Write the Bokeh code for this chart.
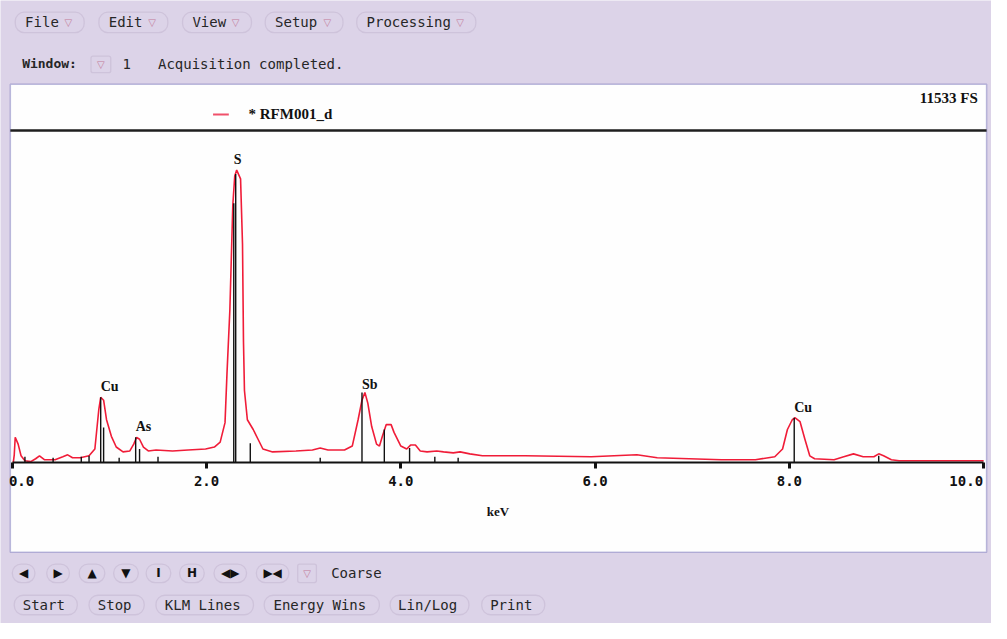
from bokeh.plotting import figure
from bokeh.models import (Range1d, FixedTicker, PrintfTickFormatter, BoxAnnotation,
                          Label, LabelSet, ColumnDataSource)
from bokeh.core.properties import value
from bokeh.embed import file_html
from bokeh.resources import INLINE

# ---------------- data ----------------
energy_kev = [0.01, 0.02, 0.03, 0.06, 0.09, 0.13, 0.19, 0.24, 0.28, 0.33, 0.44, 0.52, 0.57,
              0.62, 0.70, 0.79, 0.85, 0.89, 0.91, 0.94, 0.97, 1.02, 1.07, 1.14, 1.21, 1.25,
              1.28, 1.31, 1.35, 1.40, 1.48, 1.65, 1.81, 1.99, 2.08, 2.14, 2.19, 2.21, 2.24,
              2.27, 2.29, 2.31, 2.35, 2.37, 2.38, 2.39, 2.42, 2.48, 2.53, 2.58, 2.68, 2.92,
              3.09, 3.17, 3.25, 3.42, 3.50, 3.56, 3.60, 3.63, 3.66, 3.70, 3.75, 3.78, 3.81,
              3.85, 3.90, 3.93, 4.00, 4.06, 4.10, 4.15, 4.20, 4.27, 4.37, 4.44, 4.54, 4.61,
              4.71, 4.84, 5.28, 5.96, 6.43, 6.64, 6.97, 7.30, 7.65, 7.85, 7.93, 7.98, 8.03,
              8.06, 8.11, 8.16, 8.21, 8.26, 8.46, 8.56, 8.66, 8.76, 8.87, 8.92, 8.97, 9.05,
              9.13, 9.47, 9.81, 10.0]
counts = [0, 285, 925, 676, 249, 71, 36, 142, 249, 107, 107, 214, 285,
          178, 178, 249, 498, 1922, 2385, 2278, 1566, 961, 570, 392, 427, 676,
          925, 854, 570, 427, 463, 427, 463, 498, 570, 748, 1460, 3240, 5589,
          9398, 10466, 10680, 10360, 7974, 4414, 2634, 1566, 1210, 854, 498, 392, 427,
          463, 534, 463, 463, 605, 1566, 2278, 2563, 2172, 1317, 676, 605, 961,
          1388, 1388, 1104, 605, 498, 641, 641, 427, 392, 427, 392, 356, 392,
          320, 249, 249, 214, 285, 178, 142, 107, 107, 214, 498, 1210, 1566,
          1638, 1495, 854, 249, 142, 107, 214, 320, 214, 214, 320, 249, 107,
          71, 71, 71, 71]

klm_kev = [0.13, 0.42, 0.71, 0.79, 0.91, 0.94, 1.10, 1.27, 1.31, 1.50, 2.28, 2.30, 2.45,
           3.17, 3.60, 3.83, 4.09, 4.35, 4.59, 8.05, 8.92]
klm_counts = [214, 178, 214, 249, 2385, 1282, 178, 925, 498, 214, 9470, 10538, 712,
              178, 2563, 1210, 534, 214, 178, 1638, 249]

peak_names = ["Cu", "As", "S", "Sb", "Cu"]
peak_kev = [0.91, 1.27, 2.28, 3.60, 8.05]
peak_counts = [2385, 925, 10680, 2480, 1638]

x_ticks = [0, 2, 4, 6, 8, 10]
full_scale = 11533
series_name = "* RFM001_d"
fs_text = "11533 FS"
axis_name = "keV"

menu_labels = ["File", "Edit", "View", "Setup", "Processing"]
action_labels = ["Start", "Stop", "KLM Lines", "Energy Wins", "Lin/Log", "Print"]
nav_symbols = ["\u25C0", "\u25B6", "\u25B2", "\u25BC", "I", "H", "\u25C0\u25B6", "\u25B6\u25C0"]
window_label = "Window:"
window_no = "1"
status_text = "Acquisition completed."
mode_text = "Coarse"

# ---------------- layout (positions in screenshot pixels) ----------------
LAV = "#dcd3e8"
BTN_LINE = "#b09fbd"
TXT = "#262626"
TRI = "#c27b98"
SHOT_W, SHOT_H = 1007, 639
FX0, FX1, FY0, FY1 = 12, 999, 150, 474   # 0..10 keV, 0..full scale


def X(px):
    return (px - FX0) / (FX1 - FX0) * 10.0


def Y(py):
    return (FY1 - py) / (FY1 - FY0) * full_scale


p = figure(width=991, height=623, x_range=Range1d(X(0), X(SHOT_W)),
           y_range=Range1d(Y(SHOT_H), Y(0)),
           output_backend="svg", toolbar_location=None, y_axis_location=None,
           min_border_left=0, min_border_right=0, min_border_top=0, min_border_bottom=0)
p.border_fill_color = LAV
p.background_fill_color = LAV
p.outline_line_color = None
p.xgrid.visible = False
p.ygrid.visible = False

ax = p.xaxis[0]
ax.fixed_location = 0
ax.bounds = (0, 10)
ax.ticker = FixedTicker(ticks=x_ticks)
ax.formatter = PrintfTickFormatter(format="%.1f")
ax.major_label_overrides = {0: "\u00a00.0", 10: "10.0\u00a0"}
ax.axis_line_width = 2
ax.axis_line_color = "#111111"
ax.major_tick_out = 6
ax.major_tick_in = 0
ax.major_tick_line_width = 3
ax.major_tick_line_color = "#111111"
ax.minor_tick_out = 0
ax.minor_tick_in = 0
ax.major_label_text_font = "DejaVu Sans Mono"
ax.major_label_text_font_style = "bold"
ax.major_label_text_font_size = "14px"
ax.major_label_text_color = "#111111"
ax.major_label_standoff = 4
ax.axis_label = axis_name
ax.axis_label_text_font = "Liberation Serif"
ax.axis_label_text_font_style = "bold"
ax.axis_label_text_font_size = "13px"
ax.axis_label_text_color = "#111111"
ax.axis_label_standoff = 12

# white window with blue border
p.add_layout(BoxAnnotation(left=X(10), right=X(1002), top=Y(86), bottom=Y(566),
                           fill_color="#fefefe", fill_alpha=1, line_color="#34349a",
                           line_width=1.5, level="underlay"))
# separator under legend strip
p.add_layout(BoxAnnotation(left=X(10), right=X(1002), top=Y(132), bottom=Y(134.5),
                           fill_color="#1e1e1e", fill_alpha=1, line_color=None,
                           level="underlay"))

# spectrum and KLM markers
p.line(energy_kev, counts, line_color="#f01c38", line_width=1.6)
p.segment(x0=klm_kev, y0=[0] * len(klm_kev), x1=klm_kev, y1=klm_counts,
          line_color="#111111", line_width=1.4)
p.text(x=peak_kev, y=peak_counts, text=peak_names, text_font=value("Liberation Serif"),
       text_font_style="bold", text_font_size="14px", text_color="#111111",
       text_align="left", text_baseline="bottom", y_offset=-3)

# legend strip
p.add_layout(BoxAnnotation(left=X(216), right=X(232), top=Y(116), bottom=Y(118),
                           fill_color="#f0506a", fill_alpha=1, line_color=None))
p.add_layout(Label(x=X(252), y=Y(116), text=series_name, text_font="Liberation Serif",
                   text_font_style="bold", text_font_size="15px", text_color="#111111",
                   text_baseline="middle"))
p.add_layout(Label(x=X(993), y=Y(100), text=fs_text, text_font="Liberation Serif",
                   text_font_style="bold", text_font_size="15px", text_color="#111111",
                   text_align="right", text_baseline="middle"))


def button(l, r, t, b, radius=9):
    p.add_layout(BoxAnnotation(left=X(l), right=X(r), top=Y(t), bottom=Y(b),
                               fill_color=LAV, fill_alpha=1, line_color=BTN_LINE,
                               line_width=1.3, border_radius=radius))


def labels(xs, ys, texts, size="14px", color=TXT, align="left", style="normal",
           font="DejaVu Sans Mono"):
    src = ColumnDataSource(dict(x=[X(v) for v in xs], y=[Y(v) for v in ys], text=texts))
    p.add_layout(LabelSet(x="x", y="y", text="text", source=src, text_font=value(font),
                          text_font_size=size, text_color=color, text_align=align,
                          text_baseline="middle", text_font_style=style))


# menu bar
menu_l = [15, 100, 185, 269, 362]
menu_r = [85, 170, 255, 348, 483]
for l, r in zip(menu_l, menu_r):
    button(l, r, 12, 33)
labels([l + 10 for l in menu_l], [22] * 5, menu_labels)
labels([r - 16 for r in menu_r], [23] * 5, ["\u25BD"] * 5, size="10px", color=TRI,
       align="center", font="DejaVu Sans")

# window row
labels([22], [65], [window_label], size="13px", style="bold")
button(92, 112, 57, 74, radius=2)
labels([102], [66], ["\u25BD"], size="10px", color=TRI, align="center", font="DejaVu Sans")
labels([124, 160], [65, 65], [window_no, status_text])

# navigation row
nav_l = [12, 47, 80, 115, 148, 182, 217, 260]
nav_r = [35, 70, 106, 140, 173, 207, 250, 293]
for l, r in zip(nav_l, nav_r):
    button(l, r, 578, 597)
labels([(l + r) / 2 for l, r in zip(nav_l, nav_r)], [587] * 8, nav_symbols, size="12px",
       align="center", font="DejaVu Sans", color="#111111", style="bold")
button(302, 321, 578, 597, radius=2)
labels([311.5], [588], ["\u25BD"], size="10px", color=TRI, align="center", font="DejaVu Sans")
labels([336], [587], [mode_text])

# action row
act_l = [14, 90, 158, 268, 396, 489]
act_r = [78, 146, 257, 385, 476, 553]
for l, r in zip(act_l, act_r):
    button(l, r, 610, 630)
labels([(l + r) / 2 - 2 for l, r in zip(act_l, act_r)], [620] * 6, action_labels,
       align="center")

open("out.html", "w").write(file_html(p, INLINE))
